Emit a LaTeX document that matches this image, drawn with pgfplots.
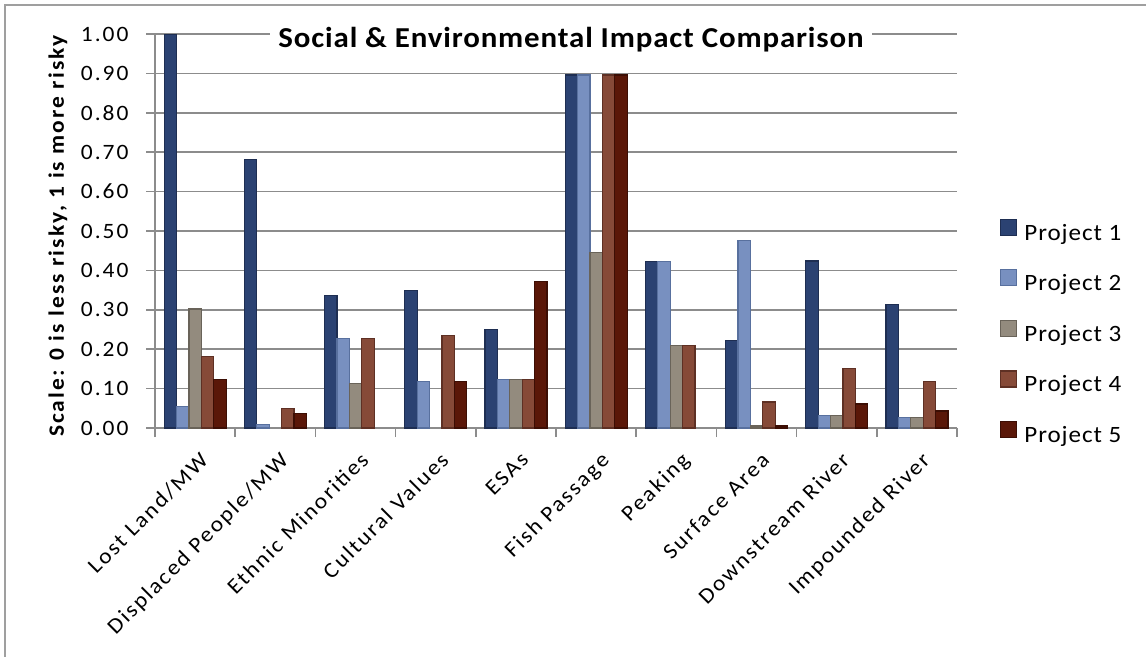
\documentclass[border=0pt]{standalone}
\usepackage{pgfplots}
\pgfplotsset{compat=1.18}
\usepackage{pgfplotstable}
\usepackage{fontspec}
\setmainfont{Carlito}
\newfontfamily\tickfont[FakeStretch=1.07, LetterSpace=9]{Carlito}
\newfontfamily\legfont[FakeStretch=1.07, LetterSpace=4]{Carlito}
\newfontfamily\titlefont[FakeStretch=1.07, LetterSpace=3]{Carlito}
\newfontfamily\ylabfont[FakeStretch=1.07, LetterSpace=9.5]{Carlito}

\definecolor{pone}{RGB}{43,66,114}
\definecolor{ponee}{RGB}{30,46,82}
\definecolor{ptwo}{RGB}{120,144,192}
\definecolor{ptwoe}{RGB}{88,112,158}
\definecolor{pthree}{RGB}{147,139,126}
\definecolor{pthreee}{RGB}{105,99,89}
\definecolor{pfour}{RGB}{134,74,56}
\definecolor{pfoure}{RGB}{94,48,36}
\definecolor{pfive}{RGB}{90,23,8}
\definecolor{pfivee}{RGB}{60,14,4}
\definecolor{gridgray}{RGB}{140,140,140}

% 0 values left out (nan)
\pgfplotstableread{
cat P1    P2    P3    P4    P5
0   1.000 0.054 0.302 0.181 0.124
1   0.682 0.008 nan   0.049 0.037
2   0.337 0.227 0.112 0.227 nan
3   0.348 0.118 nan   0.234 0.118
4   0.250 0.124 0.124 0.124 0.371
5   0.896 0.896 0.446 0.896 0.896
6   0.422 0.422 0.209 0.209 nan
7   0.222 0.475 0.005 0.066 0.005
8   0.424 0.031 0.031 0.152 0.061
9   0.314 0.026 0.026 0.118 0.043
}\impact

\begin{document}
\begin{tikzpicture}
\useasboundingbox (0,0) rectangle (1146bp,-657bp);
\draw[gray!75, line width=2bp] (5bp,-657bp) -- (5bp,-5bp) -- (1146bp,-5bp);

\begin{axis}[
  at={(155bp,-428bp)}, anchor=south west,
  scale only axis, width=802bp, height=394bp,
  ybar=0pt, bar width=12.4bp,
  xmin=-0.5, xmax=9.5, ymin=0, ymax=1,
  axis x line*=bottom, axis y line*=left,
  axis line style={gridgray, line width=1.6bp},
  tick style={gridgray, line width=1.6bp},
  tick align=outside, major tick length=9bp,
  ytick={0,0.1,...,1},
  ymajorgrids, grid style={gridgray, line width=1.6bp},
  xtick={-0.5,0.5,...,9.5}, xticklabels={,,,,,,,,,,},
  extra x ticks={0,1,...,9},
  extra x tick labels={Lost Land/MW, Displaced People/MW, Ethnic Minorities, Cultural Values, ESAs, Fish Passage, Peaking, Surface Area, Downstream River, Impounded River},
  extra x tick style={major tick length=0pt, grid=none,
    tick label style={rotate=45, anchor=north east, inner sep=0pt,
      xshift=-13.5bp, yshift=-18.5bp}},
  /pgf/number format/assume math mode=true,
  yticklabel style={/pgf/number format/fixed, /pgf/number format/fixed zerofill,
    /pgf/number format/precision=2, xshift=-14bp},
  tick label style={font=\tickfont\fontsize{22}{26}\selectfont},
  legend image code/.code={\draw[#1, line width=1.2bp] (0bp,-1bp) rectangle (16bp,15bp);},
  legend style={at={(1.0536,0.241)}, anchor=west, draw=none, fill=none,
    inner sep=0pt, row sep=24bp, column sep=7bp,
    nodes={inner sep=0pt, font=\legfont\fontsize{23.5}{27}\selectfont, text height=17bp, text depth=5bp}},
  legend cell align=left,
]
\addplot[fill=pone, draw=ponee, line width=1.2bp] table[x=cat, y=P1] {\impact};
\addplot[fill=ptwo, draw=ptwoe, line width=1.2bp] table[x=cat, y=P2] {\impact};
\addplot[fill=pthree, draw=pthreee, line width=1.2bp] table[x=cat, y=P3] {\impact};
\addplot[fill=pfour, draw=pfoure, line width=1.2bp] table[x=cat, y=P4] {\impact};
\addplot[fill=pfive, draw=pfivee, line width=1.2bp] table[x=cat, y=P5] {\impact};
\legend{Project 1, Project 2, Project 3, Project 4, Project 5}
\end{axis}

\node[fill=white, inner xsep=8bp, inner ysep=2bp, anchor=base,
  font=\titlefont\bfseries\fontsize{29}{34}\selectfont] at (571bp,-47bp)
  {Social \& Environmental Impact Comparison};
\node[rotate=90, font=\ylabfont\bfseries\fontsize{22}{26}\selectfont] at (58bp,-236bp)
  {Scale: 0 is less risky, 1 is more risky};
\end{tikzpicture}
\end{document}
